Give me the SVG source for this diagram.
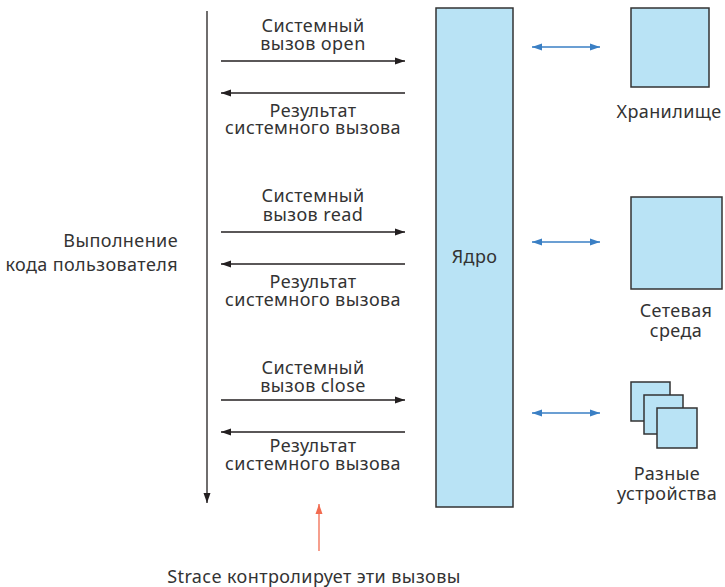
<svg xmlns="http://www.w3.org/2000/svg" width="725" height="587" viewBox="0 0 725 587">
<style>
text{font-family:"Noto Sans","Open Sans","DejaVu Sans",sans-serif;font-size:18px;letter-spacing:0.4px;fill:#333}
.c{text-anchor:middle}
.e{text-anchor:end}
.box{fill:#b9e3f5;stroke:#333;stroke-width:1.5}
.k{stroke:#231f20;stroke-width:1.3;fill:none}
.b{stroke:#3a7fc4;stroke-width:1.3;fill:none}
.r{stroke:#f26b50;stroke-width:1.3;fill:none}
</style>
<defs>
<marker id="ak" viewBox="0 0 10 10" refX="10" refY="5" markerWidth="10" markerHeight="10" markerUnits="userSpaceOnUse" orient="auto-start-reverse"><path d="M0,1.5L10,5L0,8.5z" fill="#231f20"/></marker>
<marker id="ab" viewBox="0 0 10 10" refX="10" refY="5" markerWidth="10" markerHeight="10" markerUnits="userSpaceOnUse" orient="auto-start-reverse"><path d="M0,1.5L10,5L0,8.5z" fill="#3a7fc4"/></marker>
<marker id="ar" viewBox="0 0 10 10" refX="10" refY="5" markerWidth="10" markerHeight="10" markerUnits="userSpaceOnUse" orient="auto-start-reverse"><path d="M0,1.5L10,5L0,8.5z" fill="#f26b50"/></marker>
</defs>
<g id="user">
<text class="e" x="178" y="247">Выполнение</text>
<text class="e" x="178" y="271">кода пользователя</text>
</g>
<g id="kernel">
<rect class="box" x="436" y="8" width="77" height="499"/>
<text class="c" x="474.5" y="263">Ядро</text>
</g>
<g id="storage">
<rect class="box" x="631" y="8" width="78" height="79"/>
<text class="c" x="669" y="118">Хранилище</text>
</g>
<g id="network">
<rect class="box" x="631" y="197" width="91" height="92"/>
<text class="c" x="676" y="317">Сетевая</text>
<text class="c" x="676" y="337">среда</text>
</g>
<g id="devices">
<rect class="box" x="631" y="382" width="39" height="39"/>
<rect class="box" x="644" y="395" width="39" height="39"/>
<rect class="box" x="657" y="408" width="40" height="40"/>
<text class="c" x="667" y="480">Разные</text>
<text class="c" x="667" y="500">устройства</text>
</g>
<g id="labels">
<text class="c" x="313" y="32">Системный</text>
<text class="c" x="313" y="50">вызов open</text>
<text class="c" x="313" y="117">Результат</text>
<text class="c" x="313" y="134">системного вызова</text>
<text class="c" x="313" y="202">Системный</text>
<text class="c" x="313" y="221">вызов read</text>
<text class="c" x="313" y="288">Результат</text>
<text class="c" x="313" y="306">системного вызова</text>
<text class="c" x="313" y="374">Системный</text>
<text class="c" x="313" y="392">вызов close</text>
<text class="c" x="313" y="452">Результат</text>
<text class="c" x="313" y="470">системного вызова</text>
<text class="c" x="314" y="583">Strace контролирует эти вызовы</text>
</g>
<g id="connectors">
<line class="k" x1="207" y1="11" x2="207" y2="503" marker-end="url(#ak)"/>
<line class="k" x1="221" y1="61" x2="405" y2="61" marker-end="url(#ak)"/>
<line class="k" x1="405" y1="93" x2="221" y2="93" marker-end="url(#ak)"/>
<line class="k" x1="221" y1="232" x2="405" y2="232" marker-end="url(#ak)"/>
<line class="k" x1="405" y1="264" x2="221" y2="264" marker-end="url(#ak)"/>
<line class="k" x1="221" y1="400" x2="405" y2="400" marker-end="url(#ak)"/>
<line class="k" x1="405" y1="432" x2="221" y2="432" marker-end="url(#ak)"/>
<line class="b" x1="532" y1="47" x2="600" y2="47" marker-start="url(#ab)" marker-end="url(#ab)"/>
<line class="b" x1="532" y1="242" x2="600" y2="242" marker-start="url(#ab)" marker-end="url(#ab)"/>
<line class="b" x1="532" y1="413" x2="600" y2="413" marker-start="url(#ab)" marker-end="url(#ab)"/>
<line class="r" x1="319" y1="551" x2="319" y2="504" marker-end="url(#ar)"/>
</g>
</svg>
